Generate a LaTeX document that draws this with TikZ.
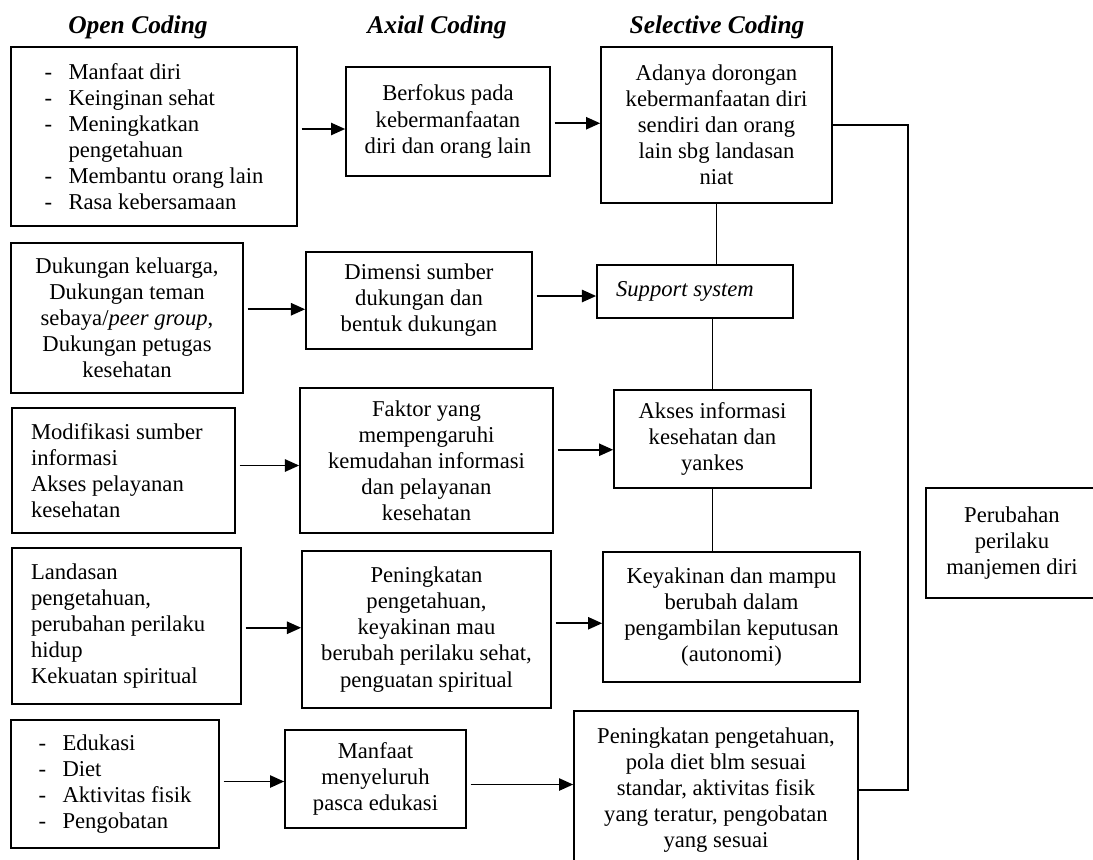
\documentclass[tikz,border=0pt]{standalone}
\usepackage{fontspec}
\setmainfont{Liberation Serif}
\usetikzlibrary{positioning}
\usetikzlibrary{calc}
\usetikzlibrary{arrows.meta}

\begin{document}
\begin{tikzpicture}[x=0.53pt, y=-0.53pt,
    box/.style={draw, line width=0.9pt, align=center, inner sep=2pt,
      font=\fontsize{12}{13.8}\selectfont},
    head/.style={font=\fontsize{13.5}{15}\selectfont\bfseries\itshape, anchor=base},
    arr/.style={line width=0.9pt, -{Triangle[length=7.5pt,width=6.5pt]}, shorten <=2pt},
    conn/.style={line width=0.9pt}]
    \useasboundingbox (0,0) rectangle (1093,859);
    \clip (0,0) rectangle (1093,859);

    % column titles
    \node[head] (hopen) at (138,33) {Open Coding};
    \node[head] (haxial) at (437,33) {Axial Coding};
    \node[head] (hsel) at (717,33) {Selective Coding};

    % open coding
    \node[box, align=left, minimum width=151.6pt, minimum height=94.9pt] (o1) at (154,136.5)
        {\makebox[12.7pt][l]{-}Manfaat diri\\ \makebox[12.7pt][l]{-}Keinginan sehat\\
         \makebox[12.7pt][l]{-}Meningkatkan\\ \hspace*{12.7pt}pengetahuan\\
         \makebox[12.7pt][l]{-}Membantu orang lain\\ \makebox[12.7pt][l]{-}Rasa kebersamaan};
    \node[box, minimum width=123pt, minimum height=79.5pt] (o2) at (127,318)
        {Dukungan keluarga,\\ Dukungan teman\\ sebaya/\textit{peer group},\\ Dukungan petugas\\ kesehatan};
    \node[box, align=flush left, text width=98pt, minimum width=118.2pt, minimum height=66.3pt] (o3) at (123.5,470.5)
        {Modifikasi sumber\\ informasi\\ Akses pelayanan\\ kesehatan};
    \node[box, align=flush left, text width=101.2pt, minimum width=121.4pt, minimum height=82.7pt] (o4) at (126.5,626)
        {Landasan\\ pengetahuan,\\ perubahan perilaku\\ hidup\\ Kekuatan spiritual};
    \node[box, align=left, minimum width=110.2pt, minimum height=67.8pt] (o5) at (115,784)
        {\makebox[12.7pt][l]{-}Edukasi\\ \makebox[12.7pt][l]{-}Diet\\
         \makebox[12.7pt][l]{-}Aktivitas fisik\\ \makebox[12.7pt][l]{-}Pengobatan};

    % axial coding
    \node[box, minimum width=108.1pt, minimum height=57.8pt] (a1) at (448,121.5)
        {Berfokus pada\\ kebermanfaatan\\ diri dan orang lain};
    \node[box, minimum width=119.8pt, minimum height=51.4pt] (a2) at (419,300.5)
        {Dimensi sumber\\ dukungan dan\\ bentuk dukungan};
    \node[box, minimum width=134.1pt, minimum height=76.9pt] (a3) at (426.5,460.5)
        {Faktor yang\\ mempengaruhi\\ kemudahan informasi\\ dan pelayanan\\ kesehatan};
    \node[box, minimum width=132pt, minimum height=83.2pt] (a4) at (426.5,629.5)
        {Peningkatan\\ pengetahuan,\\ keyakinan mau\\ berubah perilaku sehat,\\ penguatan spiritual};
    \node[box, minimum width=95.9pt, minimum height=51.9pt] (a5) at (375.5,779)
        {Manfaat\\ menyeluruh\\ pasca edukasi};

    % selective coding
    \node[box, minimum width=122.4pt, minimum height=82.7pt] (s1) at (716.5,125)
        {Adanya dorongan\\ kebermanfaatan diri\\ sendiri dan orang\\ lain sbg landasan\\ niat};
    \node[box, align=flush left, text width=83.7pt, minimum width=103.9pt, minimum height=28.1pt] (s2) at (695,291.5)
        {\textit{Support system}};
    \node[box, minimum width=104.4pt, minimum height=51.9pt] (s3) at (712.5,439)
        {Akses informasi\\ kesehatan dan\\ yankes};
    \node[box, minimum width=136.2pt, minimum height=68.9pt] (s4) at (731.5,617)
        {Keyakinan dan mampu\\ berubah dalam\\ pengambilan keputusan\\ (autonomi)};
    \node[box, minimum width=150.5pt, minimum height=83.7pt] (s5) at (716,790)
        {Peningkatan pengetahuan,\\ pola diet blm sesuai\\ standar, aktivitas fisik\\ yang teratur, pengobatan\\ yang sesuai};

    % result
    \node[box, minimum width=91.2pt, minimum height=58.3pt] (hasil) at (1012,543)
        {Perubahan\\ perilaku\\ manjemen diri};

    % arrows between columns
    \foreach \a/\b in {o1/a1,a1/s1,o2/a2,a2/s2,o3/a3,a3/s3,o4/a4,a4/s4,o5/a5,a5/s5} {
        \path ($(\a.east)!.5!(\b.west)$) coordinate (m);
        \draw[arr] (\a.east |- m) -- (\b.west |- m);
    }

    % links in the selective column
    \draw[conn] (s1.south) -- (s1.south |- s2.north);
    \draw[conn] (s3.north) -- (s3.north |- s2.south);
    \draw[conn] (s3.south) -- (s3.south |- s4.north);
    \coordinate (rline) at (908,0);
    \draw[conn] (s1.east) -- (s1.east -| rline) |- (s5.east);
\end{tikzpicture}
\end{document}
